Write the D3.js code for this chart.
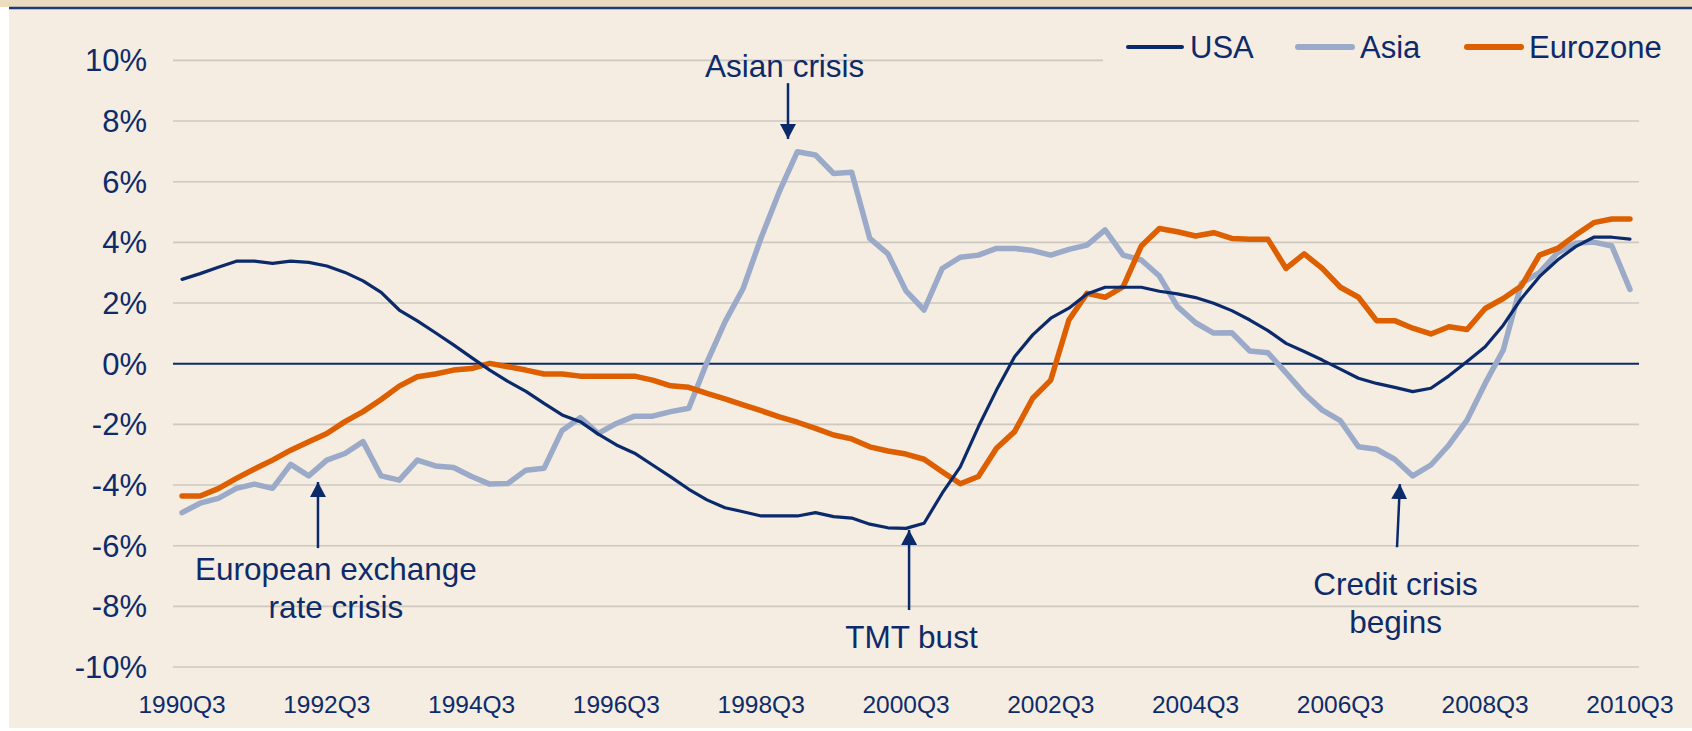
<!DOCTYPE html>
<html>
<head>
<meta charset="utf-8">
<script src="https://cdn.jsdelivr.net/npm/d3@7"></script>
<style>
  body { margin: 0; background: #fff; }
  text { font-family: "Liberation Sans", Arial, sans-serif; fill: #0d2b6b; }
</style>
</head>
<body>
<svg id="chart" width="1692" height="731"></svg>
<script>
// quarterly categories 1990Q3 .. 2010Q3
const quarters = [];
for (let y = 1990, q = 3; y < 2010 || (y === 2010 && q <= 3); q++) {
  if (q > 4) { q = 1; y++; }
  if (y === 2010 && q > 3) break;
  quarters.push(`${y}Q${q}`);
}

const xTickLabels = ["1990Q3", "1992Q3", "1994Q3", "1996Q3", "1998Q3", "2000Q3",
  "2002Q3", "2004Q3", "2006Q3", "2008Q3", "2010Q3"];
const yTicks = [-10, -8, -6, -4, -2, 0, 2, 4, 6, 8, 10];

const usa = [2.78, 2.97, 3.18, 3.38, 3.38, 3.31, 3.38, 3.34, 3.22, 3.01,
  2.73, 2.35, 1.77, 1.41, 1.02, 0.62, 0.20, -0.21, -0.58, -0.91,
  -1.31, -1.69, -1.91, -2.32, -2.68, -2.95, -3.34, -3.73, -4.14, -4.49,
  -4.75, -4.88, -5.02, -5.02, -5.02, -4.91, -5.04, -5.09, -5.29, -5.41,
  -5.43, -5.26, -4.27, -3.40, -2.08, -0.87, 0.23, 0.95, 1.50, 1.83,
  2.30, 2.52, 2.52, 2.52, 2.39, 2.30, 2.18, 1.99, 1.75, 1.44,
  1.09, 0.67, 0.40, 0.12, -0.18, -0.48, -0.65, -0.78, -0.92, -0.81,
  -0.40, 0.07, 0.56, 1.27, 2.15, 2.87, 3.42, 3.86, 4.17, 4.17, 4.11];

const asia = [-4.91, -4.60, -4.44, -4.11, -3.97, -4.11, -3.32, -3.70, -3.18, -2.96,
  -2.57, -3.70, -3.84, -3.18, -3.37, -3.42, -3.72, -3.97, -3.95, -3.51,
  -3.45, -2.20, -1.78, -2.30, -1.97, -1.73, -1.73, -1.58, -1.47, 0.04,
  1.38, 2.48, 4.16, 5.67, 6.99, 6.88, 6.27, 6.31, 4.13, 3.62,
  2.40, 1.77, 3.14, 3.51, 3.58, 3.80, 3.80, 3.73, 3.58, 3.77,
  3.91, 4.41, 3.58, 3.42, 2.89, 1.88, 1.35, 1.01, 1.02, 0.42,
  0.36, -0.30, -0.98, -1.53, -1.88, -2.74, -2.82, -3.15, -3.70, -3.34,
  -2.68, -1.86, -0.65, 0.45, 2.65, 3.00, 3.66, 3.97, 4.01, 3.88, 2.45];

const eurozone = [-4.36, -4.36, -4.12, -3.78, -3.47, -3.18, -2.85, -2.57, -2.30, -1.91,
  -1.58, -1.18, -0.74, -0.43, -0.34, -0.21, -0.16, 0.01, -0.10, -0.21,
  -0.34, -0.34, -0.41, -0.41, -0.41, -0.41, -0.54, -0.73, -0.78, -0.98,
  -1.16, -1.36, -1.55, -1.75, -1.93, -2.13, -2.35, -2.48, -2.74, -2.88,
  -2.98, -3.15, -3.56, -3.96, -3.72, -2.79, -2.24, -1.14, -0.54, 1.44,
  2.32, 2.19, 2.54, 3.88, 4.46, 4.35, 4.21, 4.32, 4.13, 4.10,
  4.10, 3.14, 3.62, 3.14, 2.52, 2.19, 1.42, 1.42, 1.17, 0.98,
  1.22, 1.13, 1.82, 2.15, 2.56, 3.58, 3.80, 4.24, 4.65, 4.77, 4.77];

const seriesNames = ["USA", "Asia", "Eurozone"];
const seriesColors = ["#0b2a6b", "#9aaac8", "#dd5f00"];
const seriesWidths = [3.2, 5.5, 5.5];

// annotations: position by quarter index and value
const annotations = [
  { lines: ["Asian crisis"], tx: 33.3, ty: [9.45], from: [33.48, 9.25], to: [33.48, 7.41] },
  { lines: ["European exchange", "rate crisis"], tx: 8.5, ty: [-7.13, -8.39], from: [7.51, -6.08], to: [7.51, -3.9] },
  { lines: ["TMT bust"], tx: 40.3, ty: [-9.37], from: [40.17, -8.12], to: [40.17, -5.48] },
  { lines: ["Credit crisis", "begins"], tx: 67.05, ty: [-7.63, -8.88], from: [67.13, -6.05], to: [67.29, -3.97] }
];

const svg = d3.select("#chart");
const W = 1692, H = 731;
const left = 173, right = 1639;

const x = d3.scaleBand().domain(quarters).range([left, right]);
const xc = q => x(q) + x.bandwidth() / 2;
const xi = i => x(quarters[0]) + x.bandwidth() / 2 + i * x.step();
const y = d3.scaleLinear().domain([-10, 10]).range([667, 60.4]);

// panel
svg.append("rect").attr("x", 9).attr("y", 0).attr("width", W - 9).attr("height", 728).attr("fill", "#f5ede1");
svg.append("rect").attr("x", 0).attr("y", 0).attr("width", W).attr("height", 7).attr("fill", "#ecdcbf");
svg.append("line").attr("x1", 9).attr("x2", W).attr("y1", 8).attr("y2", 8)
  .attr("stroke", "#1d3b78").attr("stroke-width", 2.5);

// gridlines
svg.append("g").selectAll("line").data(yTicks.filter(d => d !== 0)).join("line")
  .attr("x1", left).attr("x2", right)
  .attr("y1", d => y(d)).attr("y2", d => y(d))
  .attr("stroke", "#cdc8c0").attr("stroke-width", 1.6);

// y labels
svg.append("g").selectAll("text").data(yTicks).join("text")
  .attr("x", 147).attr("y", d => y(d))
  .attr("dy", "0.35em").attr("text-anchor", "end")
  .attr("font-size", 31)
  .text(d => d + "%");

// x labels
svg.append("g").selectAll("text").data(xTickLabels).join("text")
  .attr("x", d => xc(d)).attr("y", 713)
  .attr("text-anchor", "middle").attr("font-size", 24.5)
  .text(d => d);

// zero line
svg.append("line").attr("x1", left).attr("x2", right)
  .attr("y1", y(0)).attr("y2", y(0))
  .attr("stroke", "#0b2a6b").attr("stroke-width", 2);

// series
const line = d3.line().x((d, i) => xc(quarters[i])).y(d => y(d));
[asia, eurozone, usa].forEach(s => {
  const k = s === usa ? 0 : s === asia ? 1 : 2;
  svg.append("path").datum(s)
    .attr("d", line)
    .attr("fill", "none")
    .attr("stroke", seriesColors[k])
    .attr("stroke-width", seriesWidths[k])
    .attr("stroke-linejoin", "round")
    .attr("stroke-linecap", "round");
});

// legend (box hides the top gridline)
svg.append("rect").attr("x", 1103).attr("y", 22).attr("width", right - 1103).attr("height", 52).attr("fill", "#f5ede1");
const legendX = [1128, 1298, 1467];
const lg = svg.append("g").selectAll("g").data(seriesNames).join("g")
  .attr("transform", (d, i) => `translate(${legendX[i]},47)`);
lg.append("line").attr("x1", 0).attr("x2", 54).attr("y1", 0).attr("y2", 0)
  .attr("stroke", (d, i) => seriesColors[i])
  .attr("stroke-width", (d, i) => i === 0 ? 4 : 6)
  .attr("stroke-linecap", "round");
lg.append("text").attr("x", 62).attr("dy", "0.35em")
  .attr("font-size", 31).text(d => d);

// annotations
svg.append("defs").append("marker")
  .attr("id", "head").attr("markerUnits", "userSpaceOnUse")
  .attr("markerWidth", 16).attr("markerHeight", 16)
  .attr("refX", 15).attr("refY", 8).attr("orient", "auto")
  .append("path").attr("d", "M0,0L15,8L0,16Z").attr("fill", "#0b2a6b");

const ag = svg.append("g").selectAll("g").data(annotations).join("g");
ag.append("line")
  .attr("x1", d => xi(d.from[0])).attr("y1", d => y(d.from[1]))
  .attr("x2", d => xi(d.to[0])).attr("y2", d => y(d.to[1]))
  .attr("stroke", "#0b2a6b").attr("stroke-width", 2.5)
  .attr("marker-end", "url(#head)");
ag.each(function(d) {
  const g = d3.select(this);
  d.lines.forEach((t, j) => {
    g.append("text")
      .attr("x", xi(d.tx)).attr("y", y(d.ty[j]))
      .attr("text-anchor", "middle").attr("font-size", 31.5)
      .text(t);
  });
});
</script>
</body>
</html>
